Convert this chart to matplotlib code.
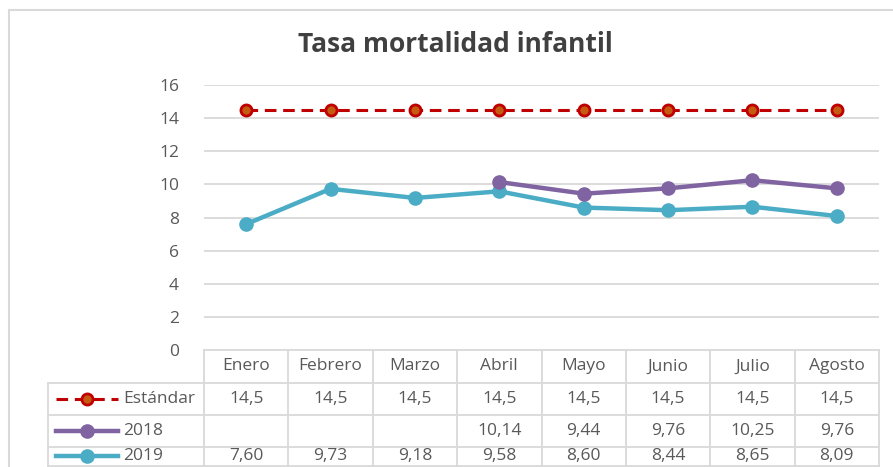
import matplotlib
matplotlib.use("Agg")
import matplotlib.pyplot as plt
from matplotlib.lines import Line2D
from matplotlib.patches import Rectangle
import numpy as np

# ---- data ----
months = ["Enero", "Febrero", "Marzo", "Abril", "Mayo", "Junio", "Julio", "Agosto"]
estandar = [14.5, 14.5, 14.5, 14.5, 14.5, 14.5, 14.5, 14.5]
y2018 = [None, None, None, 10.14, 9.44, 9.76, 10.25, 9.76]
y2019 = [7.60, 9.73, 9.18, 9.58, 8.60, 8.44, 8.65, 8.09]
series_names = ["Estándar", "2018", "2019"]
title = "Tasa mortalidad infantil"
yticks = [0, 2, 4, 6, 8, 10, 12, 14, 16]

W, H = 893, 467
DPI = 100
plt.rcParams['font.family'] = ['Open Sans', 'DejaVu Sans']

fig = plt.figure(figsize=(W / DPI, H / DPI), dpi=DPI)
fig.patch.set_facecolor("white")

def fx(px):
    return px / W

def fy(py):
    return 1 - py / H

GRID = "#D9D9D9"
TXT = "#595959"
FS = 12.5

# chart border
fig.patches.append(Rectangle((fx(9), fy(480)), fx(900) - fx(9), fy(10) - fy(480),
                             transform=fig.transFigure, fill=False,
                             edgecolor=GRID, linewidth=1.5))

ax_l, ax_r, ax_t, ax_b = 204, 879, 85, 350
ax = fig.add_axes([fx(ax_l), fy(ax_b), fx(ax_r) - fx(ax_l), fy(ax_t) - fy(ax_b)])
ax.set_xlim(-0.5, len(months) - 0.5)
ax.set_ylim(0, 16)
ax.set_yticks(yticks)
ax.set_yticklabels([str(v) for v in yticks])
ax.tick_params(axis='y', length=0, pad=18, labelsize=FS, labelcolor=TXT)
ax.set_xticks([])
for s in ax.spines.values():
    s.set_visible(False)
for v in yticks[1:]:
    ax.axhline(v, color=GRID, linewidth=1.3, zorder=0)

x = np.arange(len(months))
RED = "#C00000"
RED_FILL = "#C55A11"
PURPLE = "#8064A2"
TEAL = "#4BACC6"

style_std = dict(color=RED, linestyle=(0, (3.8, 2.2)), linewidth=2.2, marker='o',
                 markersize=8, markerfacecolor=RED_FILL, markeredgecolor=RED, markeredgewidth=2)
style_18 = dict(color=PURPLE, linewidth=3.2, marker='o', markersize=9.5,
                markerfacecolor=PURPLE, markeredgecolor=PURPLE)
style_19 = dict(color=TEAL, linewidth=3.2, marker='o', markersize=9.5,
                markerfacecolor=TEAL, markeredgecolor=TEAL)

ax.plot(x, estandar, zorder=3, **style_std)
y18 = np.array([np.nan if v is None else v for v in y2018], dtype=float)
ax.plot(x, y18, zorder=4, **style_18)
ax.plot(x, y2019, zorder=3, **style_19)

# title
fig.text(fx(455), fy(44), title, ha='center', va='center', fontsize=19,
         fontweight='bold', color="#404040")

# ---- data table ----
tax = fig.add_axes([fx(ax_l), 0, fx(ax_r) - fx(ax_l), fy(ax_b)], sharex=ax)
tax.set_ylim(H, ax_b)  # pixel rows, top = ax_b
tax.axis('off')
tax.set_xlim(-0.5, len(months) - 0.5)

rows_y = [350, 383, 415, 447, 466]
for b in np.arange(-0.5, len(months), 1.0):
    tax.plot([b, b], [350, 466], color=GRID, linewidth=1.3, clip_on=False)
tax.plot([-0.5, len(months) - 0.5], [350, 350], color=GRID, linewidth=1.3, clip_on=False)
col_w = (ax_r - ax_l) / len(months)
left_x = -0.5 - (ax_l - 48) / col_w
for ry in rows_y[1:]:
    tax.plot([left_x, len(months) - 0.5], [ry, ry], color=GRID, linewidth=1.3, clip_on=False)
tax.plot([left_x, left_x], [383, 466], color=GRID, linewidth=1.3, clip_on=False)

for i, m in enumerate(months):
    tax.text(i, 366.5, m, ha='center', va='center', fontsize=FS, color=TXT)

def fmt(v, dec):
    if v is None:
        return ""
    return f"{v:.{dec}f}".replace(".", ",")

row_vals = [(estandar, 1), (y2018, 2), (y2019, 2)]
row_centers = [399, 431, 456.5]
styles = [style_std, style_18, style_19]
for (vals, dec), cy, name, st in zip(row_vals, row_centers, series_names, styles):
    for i, v in enumerate(vals):
        tax.text(i, cy, fmt(v, dec), ha='center', va='center', fontsize=FS, color=TXT)
    kx0 = left_x + (56 - 48) / col_w
    kx1 = left_x + (118 - 48) / col_w
    tax.add_line(Line2D([kx0, kx1], [cy, cy], clip_on=False,
                        **{k: v for k, v in st.items() if not k.startswith('marker')}))
    tax.plot([(kx0 + kx1) / 2], [cy], linestyle='none', marker='o', clip_on=False,
             markersize=st['markersize'], markerfacecolor=st['markerfacecolor'],
             markeredgecolor=st['markeredgecolor'],
             markeredgewidth=st.get('markeredgewidth', 1))
    tax.text(left_x + (123 - 48) / col_w, cy, name, ha='left', va='center',
             fontsize=FS, color=TXT)

fig.savefig("out.png", dpi=DPI, facecolor="white")
